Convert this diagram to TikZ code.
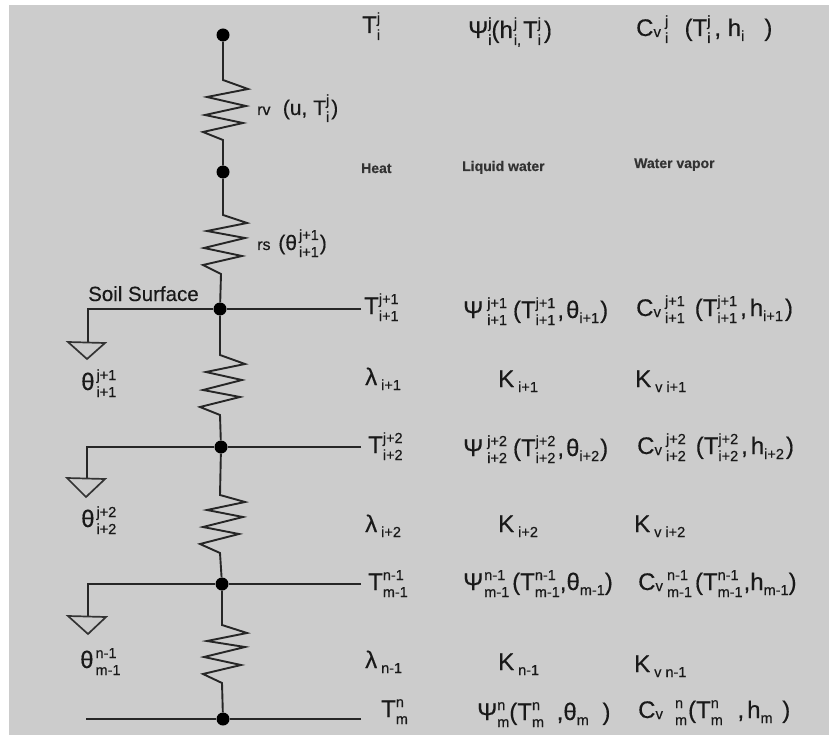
\documentclass[tikz,border=0pt]{standalone}
\usepackage{fontspec}
\setmainfont[FakeBold=0.35]{Liberation Sans}
\newcommand\ud[2]{{\fontsize{14.5}{15}\selectfont\ooalign{\raisebox{10pt}{#1}\hfil\cr\raisebox{-7pt}{#2}\hfil\cr}}}
\newcommand\dn[1]{\raisebox{-5pt}{\fontsize{14.5}{15}\selectfont #1}}
\newcommand\Cv{C\raisebox{-1pt}{\fontsize{15}{15}\selectfont v}\,}
\tikzset{
  wire/.style={line width=1.7pt,black!85,line join=miter},
  resistor/.style={line width=1.9pt,black!85,line join=miter},
  dotnode/.style={circle,fill=black,inner sep=0pt,minimum size=13pt},
  tri/.style={line width=1.7pt,black!80,line join=miter},
  lab/.style={anchor=base west,inner sep=0pt,font=\fontsize{24}{26}\selectfont,text=black!90},
  small/.style={anchor=base west,inner sep=0pt,font=\fontsize{14}{16}\selectfont\bfseries,text=black!80},
  x=1pt,y=-1pt
}
\begin{document}
\begin{tikzpicture}
\useasboundingbox (0,0) rectangle (829,735);
\fill[white] (0,0) rectangle (829,735);
\fill[black!20] (9,5) rectangle (829,735);
% junctions
\node[dotnode] (d0) at (223,35) {};
\node[dotnode] (d1) at (223,172) {};
\node[dotnode] (d2) at (220,309) {};
\node[dotnode] (d3) at (221,447) {};
\node[dotnode] (d4) at (222,584) {};
\node[dotnode] (d5) at (223,719) {};
% free ends
\coordinate (r2) at (361,309); \coordinate (l2) at (88,309); \coordinate (g2) at (88,342);
\coordinate (r3) at (361,447); \coordinate (l3) at (87,447); \coordinate (g3) at (87,478);
\coordinate (r4) at (361,584); \coordinate (l4) at (88,584); \coordinate (g4) at (88,616);
\coordinate (r5) at (361,719); \coordinate (l5) at (86,719);
% resistors
\draw[resistor] (d0) -- (223,80) -- (248,89) -- (207,97) -- (246,106) -- (205,115) -- (243,123) -- (203,132) -- (223,140) -- (d1);
\draw[resistor] (d1) -- (223,215) -- (247,223) -- (207,231) -- (245,238) -- (204,248) -- (242,256) -- (203,265) -- (221,274) -- (d2);
\draw[resistor] (d2) -- (220,355) -- (245,364) -- (206,372) -- (242,380) -- (203,390) -- (240,397) -- (200,407) -- (220,415) -- (d3);
\draw[resistor] (d3) -- (220,495) -- (245,502) -- (207,510) -- (243,517) -- (203,527) -- (239,534) -- (200,544) -- (220,553) -- (d4);
\draw[resistor] (d4) -- (222,625) -- (247,633) -- (207,641) -- (245,647) -- (204,657) -- (241,665) -- (203,674) -- (222,683) -- (d5);
% horizontals
\draw[wire] (r2) -- (d2) -- (l2) -- (g2);
\draw[wire] (r3) -- (d3) -- (l3) -- (g3);
\draw[wire] (r4) -- (d4) -- (l4) -- (g4);
\draw[wire] (r5) -- (d5) -- (l5);
% ground triangles
\draw[tri] (68,342) -- (105,343) -- (87,359) -- cycle;
\draw[tri] (67,478) -- (105,479) -- (86,497) -- cycle;
\draw[tri] (68,616) -- (106,617) -- (88,634) -- cycle;
% left labels
\node[lab,font=\fontsize{20.5}{23}\selectfont] (soil) at (88,301) {Soil Surface};
\node[lab] (th1) at (81,390) {θ\kern2pt\ud{j+1}{i+1}};
\node[lab] (th2) at (81,527) {θ\kern2pt\ud{j+2}{i+2}};
\node[lab] (th3) at (80,668) {θ\kern2pt\ud{n-1}{m-1}};
\node[lab,font=\fontsize{21}{23}\selectfont] (rv) at (257,115) {{\fontsize{16}{16}\selectfont rv}\ \,\kern3pt(u, T\ud{j}{i}\kern2pt)};
\node[lab,font=\fontsize{21}{23}\selectfont] (rs) at (257,250) {{\fontsize{16}{16}\selectfont rs}\ \kern2pt(θ\kern2pt\ud{j+1}{i+1}\kern1pt)};
% heat column
\node[lab] (T1) at (362,33) {T\ud{j}{i}};
\node[small] (heat) at (361,173) {Heat};
\node[lab] (T2) at (364,314) {T\ud{j+1}{i+1}};
\node[lab] (L1) at (365,385) {λ\,\dn{i+1}};
\node[lab] (T3) at (368,453) {T\ud{j+2}{i+2}};
\node[lab] (L2) at (365,532) {λ\,\dn{i+2}};
\node[lab] (T4) at (368,590) {T\ud{n-1}{m-1}};
\node[lab] (L3) at (365,668) {λ\,\dn{n-1}};
\node[lab] (T5) at (381,717) {T\ud{n}{m}};
% liquid column
\node[lab] (P1) at (468,38) {Ψ\ud{j}{i}(h\kern1pt\ud{j}{i,}\kern2pt T\ud{j}{i}\kern3pt)};
\node[small] (liq) at (462,171) {Liquid water};
\node[lab] (P2) at (463,318) {Ψ\,\ud{j+1}{i+1}\kern6pt(T\ud{j+1}{i+1}\kern2pt,\kern2ptθ\dn{i+1}\kern1pt)};
\node[lab] (K1) at (498,387) {K\,\dn{i+1}};
\node[lab] (P3) at (463,456) {Ψ\,\ud{j+2}{i+2}\kern6pt(T\ud{j+2}{i+2}\kern2pt,\kern2ptθ\dn{i+2}\kern1pt)};
\node[lab] (K2) at (498,532) {K\,\dn{i+2}};
\node[lab] (P4) at (463,590) {Ψ\kern1pt\ud{n-1}{m-1}\kern3pt(T\ud{n-1}{m-1},θ\dn{m-1})};
\node[lab] (K3) at (498,670) {K\,\dn{n-1}};
\node[lab] (P5) at (477,720) {Ψ\ud{n}{m}(T\ud{n}{m}\ \,\kern2pt,θ\dn{m}\ \,\kern3pt)};
% vapor column
\node[lab] (C1) at (636,36) {\Cv\ud{j}{i}\ \ \kern3pt(T\ud{j}{i}\,, h\dn{i}\ \ \ )};
\node[small] (vap) at (634,168) {Water vapor};
\node[lab] (C2) at (636,316) {\Cv\ud{j+1}{i+1}\kern10pt(T\ud{j+1}{i+1}\kern3pt,\kern3pt h\dn{i+1}\kern2pt)};
\node[lab] (V1) at (635,387) {K\,\dn{v i+1}};
\node[lab] (C3) at (637,454) {\Cv\ud{j+2}{i+2}\kern10pt(T\ud{j+2}{i+2}\kern3pt,\kern3pt h\dn{i+2}\kern2pt)};
\node[lab] (V2) at (634,532) {K\,\dn{v i+2}};
\node[lab] (C4) at (638,590) {\Cv\ud{n-1}{m-1}\kern3pt(T\ud{n-1}{m-1}\kern1pt,h\dn{m-1})};
\node[lab] (V3) at (634,672) {K\,\dn{v n-1}};
\node[lab] (C5) at (638,718) {\Cv\kern8pt\ud{n}{m}\kern1pt(T\ud{n}{m}\ \,\kern4pt,\kern3pt h\dn{m}\ \kern3pt)};
\end{tikzpicture}
\end{document}
